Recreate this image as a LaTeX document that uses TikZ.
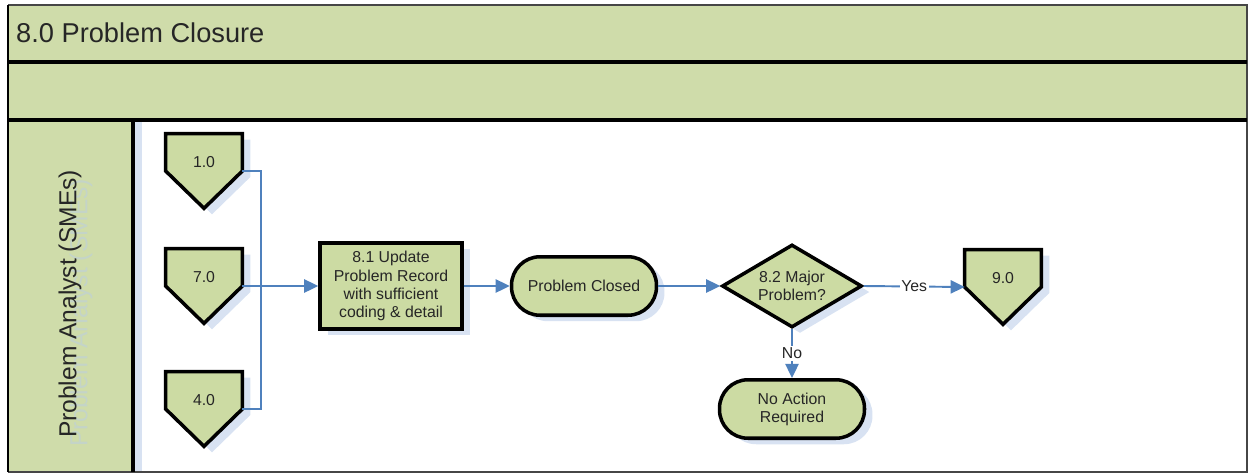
\documentclass[tikz,border=0pt]{standalone}
\usepackage{fontspec}
\setmainfont{Liberation Sans}
\usetikzlibrary{shapes.geometric, shadows, arrows.meta}

\definecolor{lanegreen}{RGB}{207,220,170}
\definecolor{shapegreen}{RGB}{204,219,163}
\definecolor{shadowblue}{RGB}{216,226,242}
\definecolor{ghostgray}{RGB}{196,212,200}
\definecolor{flowblue}{RGB}{79,129,189}
\definecolor{textgray}{RGB}{38,38,38}
\definecolor{framegray}{RGB}{70,70,70}

\pgfdeclarelayer{lanes}
\pgfdeclarelayer{shapes}
\pgfsetlayers{lanes,shapes,main}

\begin{document}
\begin{tikzpicture}[x=0.02cm, y=-0.02cm,
    every node/.style={font=\fontsize{9}{10.3}\selectfont, text=textgray},
    shadowed/.style={drop shadow={shadow xshift=0.16cm, shadow yshift=-0.12cm, fill=shadowblue, opacity=1}},
    process/.style={draw, line width=2pt, fill=shapegreen, shadowed, minimum width=2.84cm, minimum height=1.72cm, align=center, inner sep=0},
    terminal/.style={draw, line width=2pt, fill=shapegreen, shadowed, rounded corners=0.57cm, minimum width=2.9cm, minimum height=1.17cm, align=center, inner sep=0},
    decision/.style={diamond, aspect=1.65, draw, line width=2pt, fill=shapegreen, shadowed, minimum width=2.8cm, minimum height=1.66cm, align=center, inner sep=0},
    offpage/.style={minimum width=1.52cm, minimum height=1.48cm, inner sep=0},
    flow/.style={draw=flowblue, line width=1.1pt},
    arrow/.style={flow, -{Triangle[length=8pt,width=7.5pt]}},
    answer/.style={fill=white, inner sep=1pt}
]
    \useasboundingbox (0,0) rectangle (1248,474);

    % swimlane frame
    \begin{pgfonlayer}{lanes}
        \fill[lanegreen] (8,5) rectangle (1247,120);
        \fill[lanegreen] (8,120) rectangle (133,472);
        \fill[shadowblue] (134,121) rectangle (142,471);
        \draw[framegray, line width=1.2pt] (8,5) -- (1247,5) -- (1247,472) -- (8,472);
        \draw[line width=1.6pt] (8,5) -- (8,472);
        \draw[line width=1.8pt] (8,62) -- (1247,62);
        \draw[line width=2.2pt] (8,120) -- (1247,120);
        \draw[line width=2.2pt] (133,120) -- (133,472);
    \end{pgfonlayer}
    \node[anchor=west, font=\fontsize{15.5}{18}\selectfont] (title) at (10,33) {8.0 Problem Closure};
    \node[rotate=90, font=\fontsize{14}{16}\selectfont, text=ghostgray] (laneghost) at (81,313) {Problem Analyst (SMEs)};
    \node[rotate=90, font=\fontsize{14}{16}\selectfont] (lane) at (70,304) {Problem Analyst (SMEs)};

    % off-page references
    \node[offpage, label={[yshift=0.18cm]center:1.0}] (p1) at (204,171) {};
    \node[offpage, label={[yshift=0.18cm]center:7.0}] (p7) at (204,286) {};
    \node[offpage, label={[yshift=0.18cm]center:4.0}] (p4) at (204,409) {};
    \node[offpage, label={[yshift=0.18cm]center:9.0}] (p9) at (1003,287) {};
    \begin{pgfonlayer}{shapes}
        \foreach \p in {p1,p7,p4,p9} {
            \fill[shadowblue, transform canvas={shift={(8,6)}}]
                (\p.north west) -- (\p.north east) -- (\p.east) -- (\p.south) -- (\p.west) -- cycle;
            \filldraw[fill=shapegreen, line width=2pt, line join=miter]
                (\p.north west) -- (\p.north east) -- (\p.east) -- (\p.south) -- (\p.west) -- cycle;
        }
    \end{pgfonlayer}

    % process steps
    \node[process] (u81) at (391,286) {8.1 Update\\Problem Record\\with sufficient\\coding \& detail};
    \node[terminal] (pc) at (584,286) {Problem Closed};
    \node[decision] (d82) at (792,286) {8.2 Major\\Problem?};
    \node[terminal] (nar) at (792,409) {No Action\\Required};

    % connectors
    \coordinate (join) at (261,286);
    \draw[flow] (p1.east) -| (join);
    \draw[flow] (p4.east) -| (join);
    \draw[arrow] (p7.east) -- (u81.west);
    \draw[arrow] (u81.east) -- (pc.west);
    \draw[arrow] (pc.east) -- (d82.west);
    \draw[arrow] (d82.east) -- node[answer] {Yes} (p9.west);
    \draw[arrow] (d82.south) -- node[answer] {No} (nar.north);
\end{tikzpicture}
\end{document}
